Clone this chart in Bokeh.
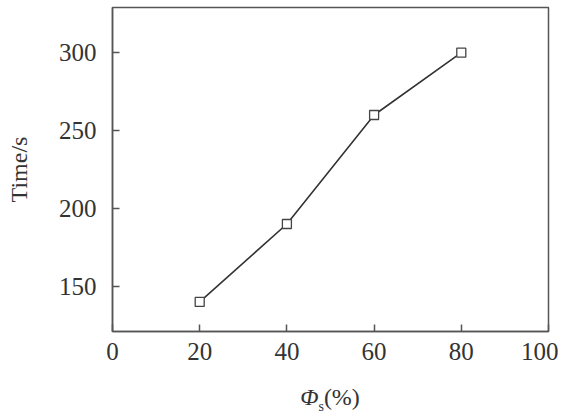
from bokeh.plotting import figure
from bokeh.models import Range1d, FixedTicker, Div
from bokeh.layouts import column
from bokeh.embed import file_html
from bokeh.resources import INLINE

phi_s = [20, 40, 60, 80]
time_s = [140, 190, 260, 300]
x_ticks = [0, 20, 40, 60, 80, 100]
y_ticks = [150, 200, 250, 300]

FONT = "Liberation Serif"
AX = "#555555"
TXT = "#333333"

p = figure(width=558, height=380, output_backend="svg", toolbar_location=None,
           x_range=Range1d(0, 100), y_range=Range1d(121, 329),
           min_border_left=112, min_border_right=10, min_border_top=7, min_border_bottom=49)
p.grid.visible = False
p.outline_line_color = AX
p.outline_line_width = 1.5
p.background_fill_color = "white"
p.border_fill_color = "white"

for ax in (p.xaxis[0], p.yaxis[0]):
    ax.axis_line_color = AX
    ax.axis_line_width = 1.5
    ax.major_tick_line_color = AX
    ax.major_tick_line_width = 1.5
    ax.major_tick_in = 7
    ax.major_tick_out = 0
    ax.minor_tick_line_color = None
    ax.major_label_text_font = FONT
    ax.major_label_text_font_size = "25px"
    ax.major_label_text_color = TXT
    ax.axis_label_text_font = FONT
    ax.axis_label_text_font_style = "normal"
    ax.axis_label_text_font_size = "24px"
    ax.axis_label_text_color = TXT

p.xaxis.ticker = FixedTicker(ticks=x_ticks)
p.yaxis.ticker = FixedTicker(ticks=y_ticks)
p.xaxis.major_label_standoff = 11
p.yaxis.major_label_standoff = 16
p.yaxis.axis_label = "Time/s"
p.yaxis.axis_label_standoff = 24

p.line(phi_s, time_s, line_color="#333333", line_width=1.6)
p.scatter(phi_s, time_s, marker="square", size=9, fill_color="white",
          line_color="#444444", line_width=1.3)

xlabel = Div(
    text='<i>Φ</i><sub style="font-size:14px">s</sub>(%)',
    width=436, height=24, margin=(5, 0, 0, 112),
    styles={"font-family": FONT, "font-size": "24px", "line-height": "24px",
            "color": TXT, "text-align": "center", "width": "436px"},
)

layout = column(p, xlabel, spacing=0)
open("out.html", "w").write(file_html(layout, INLINE))
